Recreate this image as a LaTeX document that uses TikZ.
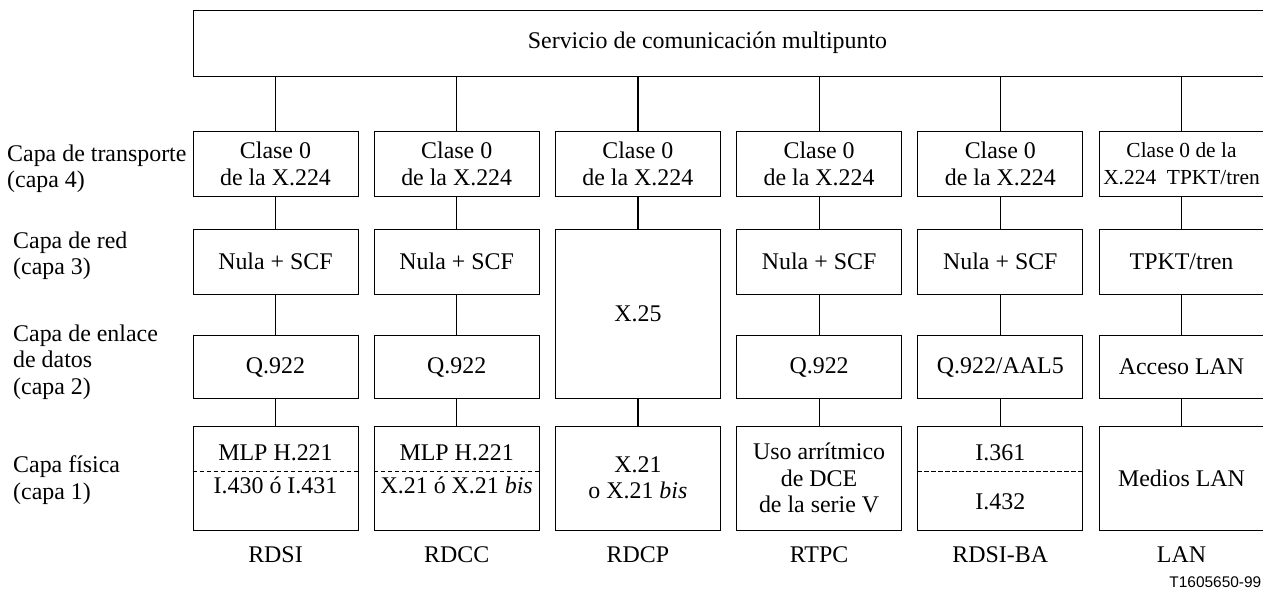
\documentclass[tikz,border=0pt]{standalone}
\usepackage{fontspec}
\setmainfont{Liberation Serif}
\newfontfamily\figsans{Liberation Sans}
\usepackage{tikz}
\usetikzlibrary{arrows,shapes}
\newcommand{\tbis}[1]{\textit{#1}}

\begin{document}
\begin{tikzpicture}[>=latex]
      \tikzstyle{every node}=[font=\fontsize{24}{26.5}\selectfont, align=center]
      \tikzstyle{caja}=[draw, line width=0.9bp, inner sep=0pt, minimum width=165bp]
      \tikzstyle{enlace}=[line width=1.2bp]
      \tikzstyle{raya}=[line width=1.3bp, dash pattern=on 4.5bp off 2.5bp]
      %%
  \useasboundingbox (0bp,0bp) rectangle (1263bp,589bp);
  \node (srv) at (728.5bp,546bp) [caja,minimum width=1071bp,minimum height=66bp] {Servicio de comunicación multipunto\hspace*{42bp}};
  \node (t_1) at (275.5bp,425bp) [caja,minimum height=64.6bp] {Clase 0\\de la X.224};
  \node (t_2) at (456.7bp,425bp) [caja,minimum height=64.6bp] {Clase 0\\de la X.224};
  \node (t_3) at (637.9bp,425bp) [caja,minimum height=64.6bp] {Clase 0\\de la X.224};
  \node (t_4) at (819.1bp,425bp) [caja,minimum height=64.6bp] {Clase 0\\de la X.224};
  \node (t_5) at (1000.3bp,425bp) [caja,minimum height=64.6bp] {Clase 0\\de la X.224};
  \node (t_6) at (1181.5bp,425bp) [caja,minimum height=64.6bp,font=\fontsize{21.5}{27}\selectfont] {Clase 0 de la\\X.224~~TPKT/tren};
  \node (r_1) at (275.5bp,327.2bp) [caja,minimum height=65bp] {Nula + SCF};
  \node (r_2) at (456.7bp,327.2bp) [caja,minimum height=65bp] {Nula + SCF};
  \node (x_3) at (637.9bp,275bp) [caja,minimum height=169.4bp] {X.25};
  \node (r_4) at (819.1bp,327.2bp) [caja,minimum height=65bp] {Nula + SCF};
  \node (r_5) at (1000.3bp,327.2bp) [caja,minimum height=65bp] {Nula + SCF};
  \node (r_6) at (1181.5bp,327.2bp) [caja,minimum height=65bp] {TPKT/tren};
  \node (e_1) at (275.5bp,221.8bp) [caja,minimum height=63bp] {Q.922};
  \node (e_2) at (456.7bp,221.8bp) [caja,minimum height=63bp] {Q.922};
  \node (e_4) at (819.1bp,221.8bp) [caja,minimum height=63bp] {Q.922};
  \node (e_5) at (1000.3bp,221.8bp) [caja,minimum height=63bp] {Q.922/AAL5};
  \node (e_6) at (1181.5bp,221.8bp) [caja,minimum height=63bp] {Acceso LAN};
  \node (f_1) at (275.5bp,111bp) [caja,minimum height=104bp] {};
  \node (f_2) at (456.7bp,111bp) [caja,minimum height=104bp] {};
  \node (f_3) at (637.9bp,111bp) [caja,minimum height=104bp] {X.21\\o X.21 \tbis{bis}};
  \node (f_4) at (819.1bp,111bp) [caja,minimum height=104bp] {Uso arrítmico\\de DCE\\de la serie V};
  \node (f_5) at (1000.3bp,111bp) [caja,minimum height=104bp] {};
  \node (f_6) at (1181.5bp,111bp) [caja,minimum height=104bp] {Medios LAN};
  \node (f_1a) at (275.5bp,136bp) {MLP H.221};
  \node (f_1b) at (275.5bp,104bp) {I.430 ó I.431};
  \node (f_2a) at (456.7bp,136bp) {MLP H.221};
  \node (f_2b) at (456.7bp,104bp) {X.21 ó X.21 \tbis{bis}};
  \node (f_5a) at (1000.3bp,136bp) {I.361};
  \node (f_5b) at (1000.3bp,87.3bp) {I.432};
  \node (n_1) at (275.5bp,34.5bp) {RDSI};
  \node (n_2) at (456.7bp,34.5bp) {RDCC};
  \node (n_3) at (637.9bp,34.5bp) {RDCP};
  \node (n_4) at (819.1bp,34.5bp) {RTPC};
  \node (n_5) at (1000.3bp,34.5bp) {RDSI-BA};
  \node (n_6) at (1181.5bp,34.5bp) {LAN};
  \node (c_4) at (7bp,420bp) [anchor=west,align=left,inner sep=0pt] {Capa de transporte\\(capa 4)};
  \node (c_3) at (13bp,333bp) [anchor=west,align=left,inner sep=0pt] {Capa de red\\(capa 3)};
  \node (c_2) at (13bp,227bp) [anchor=west,align=left,inner sep=0pt] {Capa de enlace\\de datos\\(capa 2)};
  \node (c_1) at (13bp,109bp) [anchor=west,align=left,inner sep=0pt] {Capa física\\(capa 1)};
  \node (fig) at (1261.5bp,7bp) [anchor=east,inner sep=0pt,font=\figsans\fontsize{15.5}{18}\selectfont] {T1605650-99};
  \draw [enlace] (t_1 |- srv.south) -- (t_1);
  \draw [enlace] (t_2 |- srv.south) -- (t_2);
  \draw [enlace] (t_3 |- srv.south) -- (t_3);
  \draw [enlace] (t_4 |- srv.south) -- (t_4);
  \draw [enlace] (t_5 |- srv.south) -- (t_5);
  \draw [enlace] (t_6 |- srv.south) -- (t_6);
  \draw [enlace] (t_1) -- (r_1);
  \draw [enlace] (r_1) -- (e_1);
  \draw [enlace] (e_1) -- (f_1);
  \draw [enlace] (t_2) -- (r_2);
  \draw [enlace] (r_2) -- (e_2);
  \draw [enlace] (e_2) -- (f_2);
  \draw [enlace] (t_3) -- (x_3);
  \draw [enlace] (x_3) -- (f_3);
  \draw [enlace] (t_4) -- (r_4);
  \draw [enlace] (r_4) -- (e_4);
  \draw [enlace] (e_4) -- (f_4);
  \draw [enlace] (t_5) -- (r_5);
  \draw [enlace] (r_5) -- (e_5);
  \draw [enlace] (e_5) -- (f_5);
  \draw [enlace] (t_6) -- (r_6);
  \draw [enlace] (r_6) -- (e_6);
  \draw [enlace] (e_6) -- (f_6);
  \draw [raya] ([yshift=6.3bp]f_1.west) -- ([yshift=6.3bp]f_1.east);
  \draw [raya] ([yshift=6.3bp]f_2.west) -- ([yshift=6.3bp]f_2.east);
  \draw [raya] ([yshift=6.3bp]f_5.west) -- ([yshift=6.3bp]f_5.east);
%
\end{tikzpicture}
\end{document}
